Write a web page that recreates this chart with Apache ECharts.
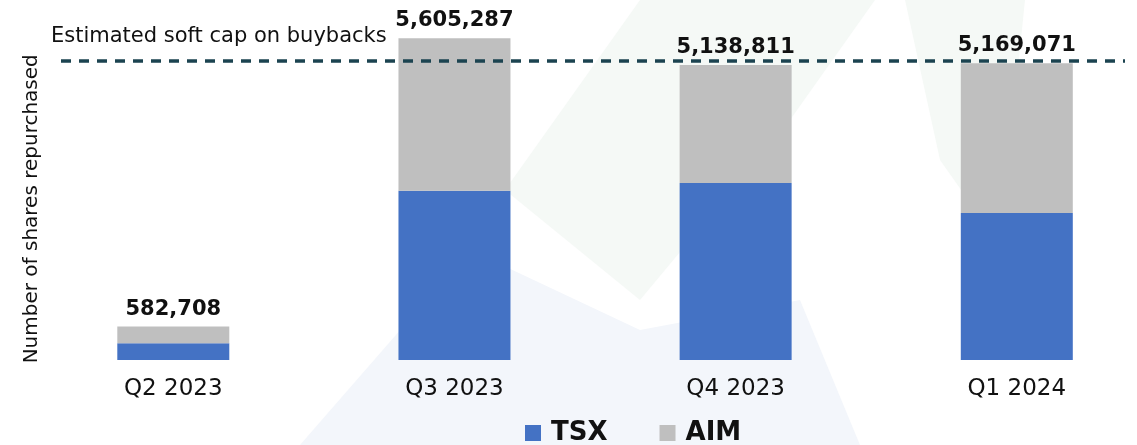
<!DOCTYPE html>
<html>
<head>
<meta charset="utf-8">
<script src="https://cdn.jsdelivr.net/npm/echarts@6/dist/echarts.min.js"></script>
<style>
  html, body { margin: 0; padding: 0; background: #ffffff; }
  #chart { width: 1137px; height: 445px; }
</style>
</head>
<body>
<div id="chart"></div>
<script>
// data
const quarters = ["Q2 2023", "Q3 2023", "Q4 2023", "Q1 2024"];
const totals = [582708, 5605287, 5138811, 5169071];
const tsx = [291000, 2950000, 3084000, 2561000];
const aim = [291708, 2655287, 2054811, 2608071];
const softCap = 5220000;

const font = "DejaVu Sans";

// faint watermark behind the plot
const watermark = [
  { points: [[640, 0], [875, 0], [790, 120], [640, 300], [505, 190]], fill: "#f5f9f6" },
  { points: [[905, 0], [1025, 0], [1000, 245], [940, 160]], fill: "#f5f9f6" },
  { points: [[300, 445], [470, 250], [640, 330], [800, 300], [860, 445]], fill: "#f3f6fb" },
];

const fmt = (n) => n.toLocaleString("en-US");

const chart = echarts.init(document.getElementById("chart"));

chart.setOption({
  backgroundColor: "#ffffff",
  animation: false,
  graphic: watermark.map((w) => ({
    type: "polygon",
    silent: true,
    z: -10,
    shape: { points: w.points },
    style: { fill: w.fill },
  })),
  grid: { left: 173.3, right: 120.2, top: 15.6, bottom: 85 },
  legend: {
    left: 520,
    top: 415,
    itemWidth: 16,
    itemHeight: 16,
    itemGap: 52,
    icon: "rect",
    textStyle: {
      fontFamily: font,
      fontSize: 26,
      fontWeight: "bold",
      color: "#111",
      padding: [0, 0, 0, 5],
    },
    data: ["TSX", "AIM"],
  },
  xAxis: {
    type: "category",
    data: quarters,
    boundaryGap: false,
    axisLine: { show: false },
    axisTick: { show: false },
    axisLabel: {
      fontFamily: font,
      fontSize: 23,
      color: "#111",
      margin: 18,
    },
  },
  yAxis: {
    type: "value",
    min: 0,
    max: 6000000,
    axisLabel: { show: false },
    axisLine: { show: false },
    axisTick: { show: false },
    splitLine: { show: false },
    name: "Number of shares repurchased",
    nameLocation: "middle",
    nameGap: 132,
    nameTextStyle: {
      fontFamily: font,
      fontSize: 20,
      color: "#111",
      padding: [0, 42, 0, 0],
    },
  },
  series: [
    {
      name: "TSX",
      type: "bar",
      stack: "shares",
      barWidth: 112,
      clip: false,
      itemStyle: { color: "#4472c4" },
      data: tsx,
    },
    {
      name: "AIM",
      type: "bar",
      stack: "shares",
      barWidth: 112,
      clip: false,
      itemStyle: { color: "#bfbfbf" },
      label: {
        show: true,
        position: "top",
        distance: 7,
        fontFamily: font,
        fontSize: 21,
        fontWeight: "bold",
        color: "#111",
        formatter: (p) => fmt(totals[p.dataIndex]),
      },
      data: aim,
      markLine: {
        silent: true,
        symbol: "none",
        lineStyle: { color: "#1b4350", width: 3.5, type: [10, 8] },
        label: {
          show: true,
          position: "insideStartTop",
          distance: [-10, 13],
          formatter: "Estimated soft cap on buybacks",
          fontFamily: font,
          fontSize: 21,
          color: "#111",
        },
        data: [[{ x: 61, yAxis: softCap }, { x: 1125, yAxis: softCap }]],
      },
    },
  ],
});
</script>
</body>
</html>
